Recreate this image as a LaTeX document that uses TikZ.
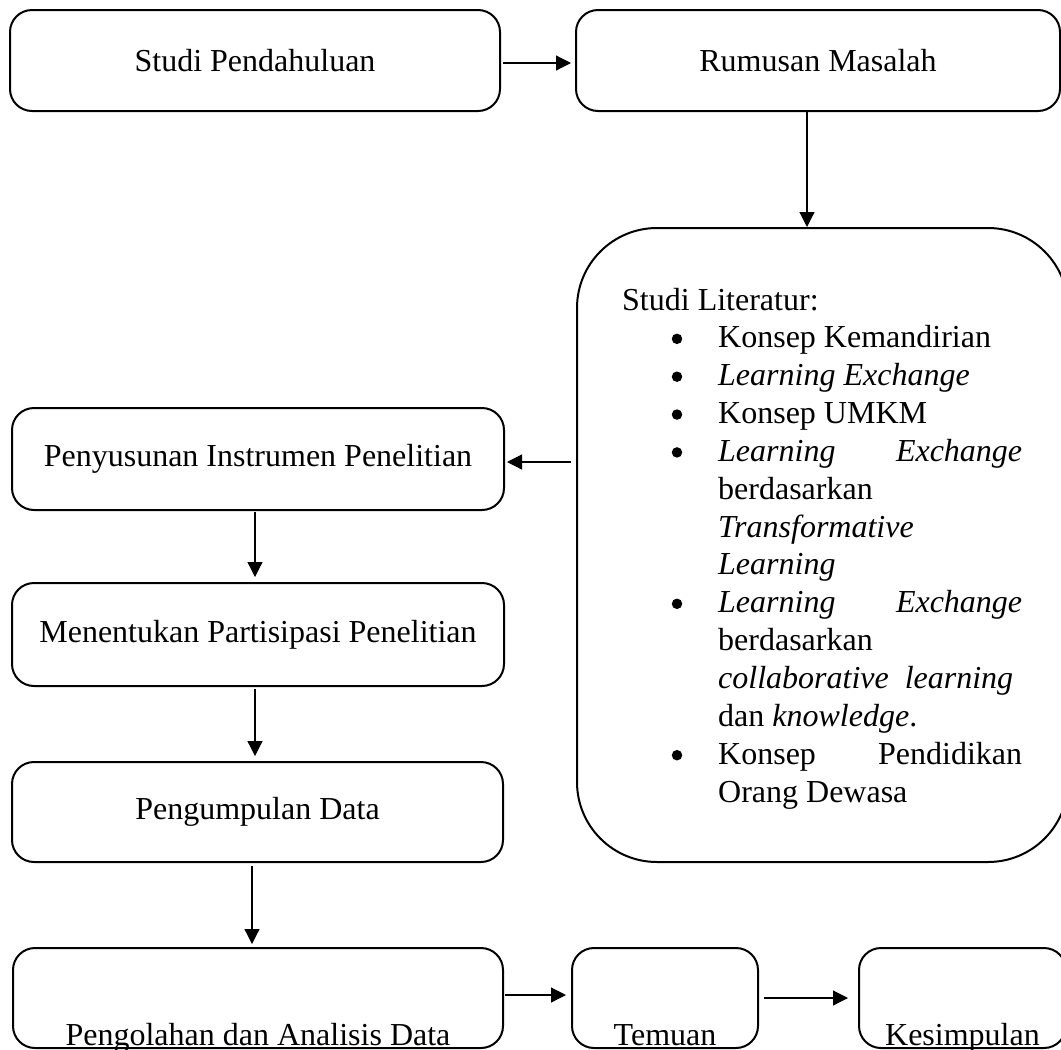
\documentclass[tikz,border=0pt]{standalone}
\usepackage{fontspec}
\setmainfont{Liberation Serif}
\usetikzlibrary{arrows.meta}
\begin{document}
\begin{tikzpicture}[x=1pt,y=-1pt,
  box/.style={draw, line width=2pt, rounded corners=22pt, inner sep=0pt, align=center,
    font=\fontsize{32pt}{38pt}\selectfont},
  bigbox/.style={draw, line width=2pt, rounded corners=80pt, inner sep=0pt},
  arr/.style={line width=1.2pt, -{Triangle[length=15pt,width=15pt]}},
  txt/.style={anchor=base west, inner sep=0pt, font=\fontsize{32pt}{38pt}\selectfont},
  bul/.style={circle, fill, inner sep=0pt, minimum size=10.5pt}]
\useasboundingbox (0,0) rectangle (1061,1050);
\clip (0,0) rectangle (1061,1050);

% boxes
\node[box, minimum width=490pt, minimum height=101pt] (b1) at (255,60.5) {Studi Pendahuluan};
\node[box, minimum width=484pt, minimum height=101pt] (b2) at (818,60.5) {Rumusan Masalah};
\node[bigbox, minimum width=491pt, minimum height=634pt] (lit) at (822.5,545) {};
\node[box, minimum width=492pt, minimum height=102pt] (b3) at (258,459) {Penyusunan Instrumen Penelitian};
\node[box, minimum width=492pt, minimum height=103pt] (b4) at (258,634.5) {Menentukan Partisipasi Penelitian};
\node[box, minimum width=491pt, minimum height=100pt] (b5) at (257.5,812) {Pengumpulan Data};
\node[box, minimum width=490pt, minimum height=100pt, text height=94pt, text depth=0pt, inner ysep=3pt] (b6) at (258,998) {Pengolahan dan Analisis Data};
\node[box, minimum width=186pt, minimum height=100pt, text height=94pt, text depth=0pt, inner ysep=3pt] (b7) at (665,998) {Temuan};
\node[box, minimum width=207pt, minimum height=100pt, text height=94pt, text depth=0pt, inner ysep=3pt] (b8) at (962.5,998) {Kesimpulan};

% literature text
\node[txt] (l0) at (622,310) {Studi Literatur:};
\node[bul] (u1) at (677,338.85) {};
\node[txt] (l1) at (718,347.85) {Konsep Kemandirian};
\node[bul] (u2) at (677,376.7) {};
\node[txt] (l2) at (718,385.7) {\textit{Learning Exchange}};
\node[bul] (u3) at (677,414.55) {};
\node[txt] (l3) at (718,423.55) {Konsep UMKM};
\node[bul] (u4) at (677,452.4) {};
\node[txt] (l4) at (718,461.4) {\makebox[304pt][l]{\textit{Learning}\hfill\textit{Exchange}}};
\node[txt] (l5) at (718,499.25) {berdasarkan};
\node[txt] (l6) at (718,537.1) {\textit{Transformative}};
\node[txt] (l7) at (718,574.95) {\textit{Learning}};
\node[bul] (u5) at (677,603.8) {};
\node[txt] (l8) at (718,612.8) {\makebox[304pt][l]{\textit{Learning}\hfill\textit{Exchange}}};
\node[txt] (l9) at (718,650.65) {berdasarkan};
\node[txt] (l10) at (718,688.5) {\makebox[295pt][l]{\textit{collaborative}\hfill\textit{learning}}};
\node[txt] (l11) at (718,726.35) {dan \textit{knowledge}.};
\node[bul] (u6) at (677,755.2) {};
\node[txt] (l12) at (718,764.2) {\makebox[304pt][l]{Konsep\hfill Pendidikan}};
\node[txt] (l13) at (718,802.05) {Orang Dewasa};

% connectors
\draw[arr] ([xshift=2pt,yshift=-2.5pt]b1.east) -- ([xshift=-4pt,yshift=-2.5pt]b2.west);
\draw[arr] ([xshift=-11pt]b2.south) -- ([xshift=-11pt]b2.south |- lit.north);
\draw[arr] ([xshift=-5pt,yshift=-3pt]b3.east -| lit.west) -- ([xshift=2pt,yshift=-3pt]b3.east);
\draw[arr, shorten >=6pt] ([xshift=-3pt,yshift=-1pt]b3.south) -- ([xshift=-3pt,yshift=-1pt]b3.south |- b4.north);
\draw[arr, shorten >=7pt] ([xshift=-3pt,yshift=-2pt]b4.south) -- ([xshift=-3pt,yshift=-2pt]b4.south |- b5.north);
\draw[arr, shorten >=6pt] ([xshift=-5.5pt,yshift=-3pt]b5.south) -- ([xshift=-5.5pt,yshift=-3pt]b5.south |- b6.north);
\draw[arr] ([xshift=1pt,yshift=3pt]b6.east) -- ([xshift=-5pt,yshift=3pt]b7.west);
\draw[arr] ([xshift=5pt]b7.east) -- ([xshift=-10pt]b8.west);
\end{tikzpicture}
\end{document}
